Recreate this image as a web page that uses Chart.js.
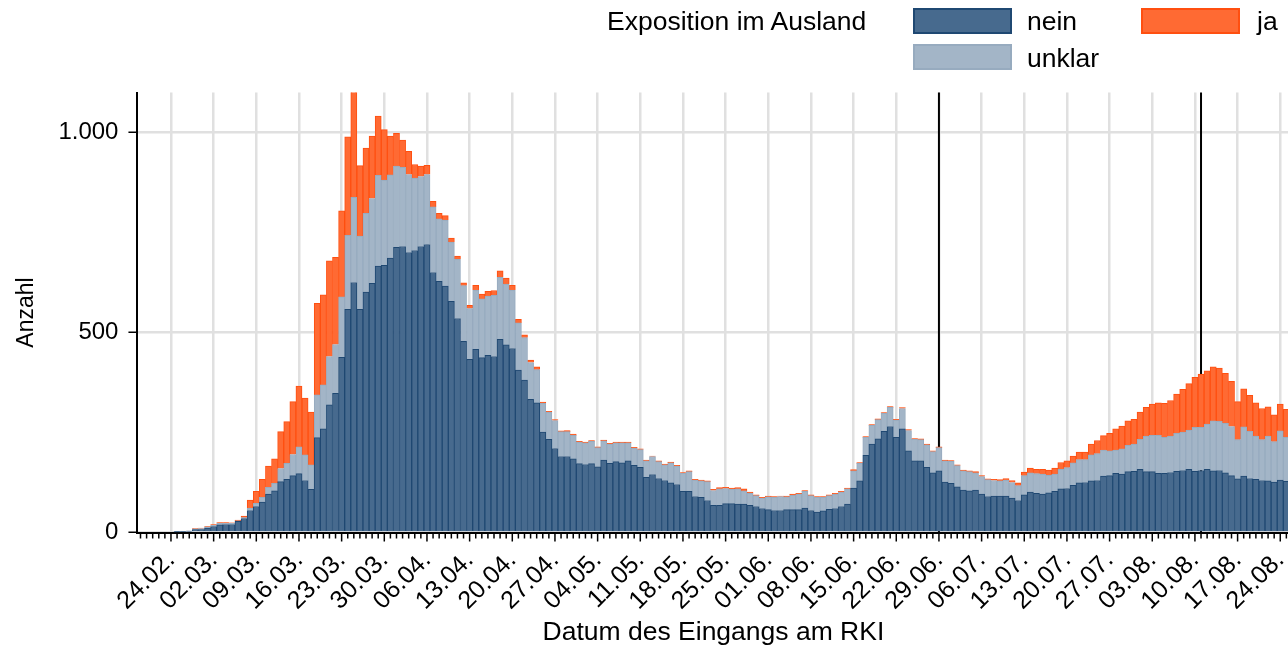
<!DOCTYPE html>
<html lang="de">
<head>
<meta charset="utf-8">
<title>Exposition im Ausland</title>
<script src="https://cdn.jsdelivr.net/npm/chart.js@4/dist/chart.umd.min.js"></script>
<style>
  html, body { margin: 0; padding: 0; background: #fff; overflow: hidden; }
  body { width: 1288px; height: 649px; position: relative; font-family: "Liberation Sans", Arial, sans-serif; color: #000; }
  .chart-box { position: absolute; left: 0; top: 0; width: 1290px; height: 649px; }
  .legend-text { position: absolute; font-size: 26.5px; line-height: 30px; white-space: nowrap; }
  .swatch { position: absolute; box-sizing: border-box; width: 99px; height: 26px; border: 2px solid; }
</style>
</head>
<body>
<div class="chart-box"><canvas id="chart"></canvas></div>

<div class="legend-text" style="left:607px; top:6px;">Exposition im Ausland</div>
<div class="swatch" style="left:913px; top:8px; background:#476a8e; border-color:#1f4872;"></div>
<div class="legend-text" style="left:1027px; top:6px;">nein</div>
<div class="swatch" style="left:1141px; top:8px; background:#ff6a33; border-color:#ff4f10;"></div>
<div class="legend-text" style="left:1257px; top:6px;">ja</div>
<div class="swatch" style="left:913px; top:44px; background:#a3b5c7; border-color:#97abbf;"></div>
<div class="legend-text" style="left:1027px; top:43px;">unklar</div>

<script>
// one category per day, 19.02. - 25.08.
const categories = [];
for (let i = 0; i < 189; i++) {
  const d = new Date(2020, 1, 19 + i);
  categories.push(String(d.getDate()).padStart(2, '0') + '.' + String(d.getMonth() + 1).padStart(2, '0') + '.');
}

const weekTicks = ['24.02.', '02.03.', '09.03.', '16.03.', '23.03.', '30.03.', '06.04.', '13.04.', '20.04.',
  '27.04.', '04.05.', '11.05.', '18.05.', '25.05.', '01.06.', '08.06.', '15.06.', '22.06.', '29.06.',
  '06.07.', '13.07.', '20.07.', '27.07.', '03.08.', '10.08.', '17.08.', '24.08.'];

const yTicks = [0, 500, 1000];

const markerDates = ['29.06.', '11.08.'];

const nein = [
  0, 0, 0, 0, 0, 0, 1, 2, 3, 7, 7, 11,
  15, 19, 20, 20, 28, 35, 55, 65, 76, 96, 104, 127,
  133, 142, 147, 130, 108, 237, 259, 319, 348, 438, 558, 625,
  558, 601, 623, 666, 668, 686, 713, 715, 700, 705, 715, 720,
  650, 628, 616, 578, 535, 478, 433, 458, 437, 443, 440, 483,
  469, 460, 406, 381, 333, 324, 251, 233, 210, 190, 190, 184,
  172, 170, 172, 164, 181, 173, 177, 174, 179, 168, 163, 138,
  145, 135, 130, 124, 120, 103, 103, 90, 88, 80, 68, 68,
  72, 72, 71, 71, 68, 65, 60, 57, 55, 55, 57, 57,
  57, 61, 55, 51, 54, 58, 60, 65, 71, 111, 129, 193,
  221, 234, 253, 265, 238, 259, 204, 179, 179, 163, 149, 154,
  126, 123, 114, 106, 104, 106, 96, 90, 91, 91, 91, 86,
  80, 94, 101, 98, 96, 99, 103, 109, 110, 118, 124, 125,
  129, 130, 141, 142, 148, 146, 152, 153, 158, 152, 152, 148,
  148, 150, 153, 155, 158, 153, 155, 158, 154, 155, 149, 142,
  134, 141, 135, 133, 130, 129, 126, 131, 128
];

const unklar = [
  0, 0, 0, 0, 0, 0, 0, 0, 1, 2, 3, 3,
  3, 4, 3, 3, 1, 2, 6, 8, 12, 17, 19, 33,
  40, 53, 67, 64, 61, 107, 110, 121, 122, 151, 185, 213,
  183, 197, 212, 227, 213, 208, 203, 198, 195, 181, 175, 175,
  164, 156, 165, 148, 148, 139, 127, 148, 147, 148, 153, 155,
  152, 146, 118, 106, 92, 83, 72, 68, 70, 62, 62, 59,
  54, 54, 56, 48, 48, 48, 47, 50, 45, 43, 44, 41,
  45, 42, 39, 50, 46, 45, 49, 41, 41, 47, 37, 41,
  38, 36, 38, 33, 30, 27, 26, 32, 33, 35, 32, 36,
  39, 42, 37, 37, 34, 34, 36, 36, 38, 43, 44, 45,
  47, 48, 45, 48, 43, 51, 51, 54, 53, 56, 53, 58,
  53, 55, 53, 48, 48, 43, 44, 42, 39, 38, 40, 39,
  37, 48, 48, 49, 50, 44, 43, 49, 52, 56, 58, 57,
  65, 67, 65, 62, 58, 63, 66, 68, 75, 89, 91, 95,
  90, 91, 95, 96, 98, 110, 108, 113, 125, 123, 124, 123,
  98, 123, 118, 108, 102, 112, 101, 123, 110
];

const ja = [
  0, 0, 0, 0, 0, 0, 0, 0, 0, 1, 1, 1,
  2, 2, 2, 1, 2, 4, 20, 30, 45, 53, 61, 92,
  104, 132, 152, 142, 132, 229, 225, 239, 218, 215, 246, 290,
  176, 163, 156, 148, 126, 97, 82, 68, 58, 34, 26, 23,
  14, 14, 11, 10, 8, 7, 8, 12, 12, 12, 12, 16,
  15, 12, 9, 7, 6, 7, 3, 2, 2, 2, 3, 3,
  2, 2, 2, 2, 2, 2, 2, 2, 2, 2, 2, 2,
  1, 2, 2, 2, 2, 2, 2, 2, 2, 2, 3, 3,
  3, 3, 3, 5, 3, 2, 2, 2, 2, 1, 2, 3,
  2, 2, 2, 2, 2, 2, 2, 2, 2, 3, 2, 2,
  2, 2, 2, 2, 2, 2, 2, 2, 2, 2, 2, 2,
  2, 2, 2, 2, 2, 3, 2, 2, 3, 3, 4, 5,
  7, 9, 12, 11, 12, 13, 15, 17, 17, 17, 19, 19,
  27, 33, 36, 44, 53, 57, 61, 62, 68, 72, 78, 81,
  85, 89, 98, 107, 116, 125, 133, 133, 135, 133, 125, 113,
  95, 95, 90, 83, 78, 73, 67, 67, 70
];

const fontFamily = '"Liberation Sans", Arial, sans-serif';
const gridGrey = '#e0e0e0';

// small daily ticks, longer ones at the weekly labels
const dayTicks = {
  id: 'dayTicks',
  afterDraw(chart) {
    const x = chart.scales.x, area = chart.chartArea, ctx = chart.ctx;
    ctx.save();
    ctx.strokeStyle = '#000';
    ctx.lineWidth = 1.5;
    categories.forEach((c, i) => {
      const px = x.getPixelForValue(i);
      const len = weekTicks.includes(c) ? 8 : 5;
      ctx.beginPath();
      ctx.moveTo(px, area.bottom + 1);
      ctx.lineTo(px, area.bottom + 1 + len);
      ctx.stroke();
    });
    ctx.restore();
  }
};

// black reference lines behind the bars
const markerLines = {
  id: 'markerLines',
  beforeDatasetsDraw(chart) {
    const x = chart.scales.x, area = chart.chartArea, ctx = chart.ctx;
    ctx.save();
    ctx.strokeStyle = '#000';
    ctx.lineWidth = 2;
    markerDates.forEach(d => {
      const px = x.getPixelForValue(categories.indexOf(d));
      ctx.beginPath();
      ctx.moveTo(px, area.top);
      ctx.lineTo(px, area.bottom);
      ctx.stroke();
    });
    ctx.restore();
  }
};

new Chart(document.getElementById('chart'), {
  type: 'bar',
  data: {
    labels: categories,
    datasets: [
      { label: 'nein', data: nein, backgroundColor: '#476a8e', borderColor: '#1f4872' },
      { label: 'unklar', data: unklar, backgroundColor: '#a3b5c7', borderColor: '#97abbf' },
      { label: 'ja', data: ja, backgroundColor: '#ff6a33', borderColor: '#ff4f10' }
    ]
  },
  plugins: [dayTicks, markerLines],
  options: {
    responsive: true,
    maintainAspectRatio: false,
    animation: false,
    layout: { padding: { top: 92.5, right: 0.6, bottom: 0, left: 0 } },
    datasets: {
      bar: { barPercentage: 1, categoryPercentage: 1, borderWidth: 1 }
    },
    plugins: {
      legend: { display: false },
      tooltip: { enabled: false }
    },
    scales: {
      x: {
        stacked: true,
        offset: true,
        afterFit: scale => {
          scale.height = 116.5;
          scale.paddingLeft = 0;
          scale.paddingRight = 0;
        },
        border: { display: true, color: '#000', width: 2 },
        grid: {
          offset: false,
          drawTicks: false,
          lineWidth: 2.5,
          color: ctx => weekTicks.includes(categories[ctx.index]) ? gridGrey : 'rgba(0,0,0,0)'
        },
        ticks: {
          autoSkip: false,
          minRotation: 45,
          maxRotation: 45,
          padding: 13,
          color: '#000',
          font: { family: fontFamily, size: 25 },
          callback: (v, i) => weekTicks.includes(categories[i]) ? categories[i] : ''
        },
        title: {
          display: true,
          text: 'Datum des Eingangs am RKI',
          color: '#000',
          font: { family: fontFamily, size: 26.5 },
          padding: { top: 0, bottom: 0 }
        }
      },
      y: {
        stacked: true,
        min: 0,
        max: 1100,
        afterFit: scale => { scale.width = 137.45; },
        afterBuildTicks: scale => { scale.ticks = yTicks.map(v => ({ value: v })); },
        border: { display: true, color: '#000', width: 2 },
        grid: { color: gridGrey, lineWidth: 2.5, drawTicks: true, tickLength: 9, tickColor: '#000', tickWidth: 1.5 },
        ticks: {
          padding: 10,
          color: '#000',
          font: { family: fontFamily, size: 24 },
          callback: v => String(v).replace(/\B(?=(\d{3})+(?!\d))/g, '.')
        },
        title: {
          display: true,
          text: 'Anzahl',
          color: '#000',
          font: { family: fontFamily, size: 23 },
          padding: { top: 13, bottom: 0 }
        }
      }
    }
  }
});
</script>
</body>
</html>
